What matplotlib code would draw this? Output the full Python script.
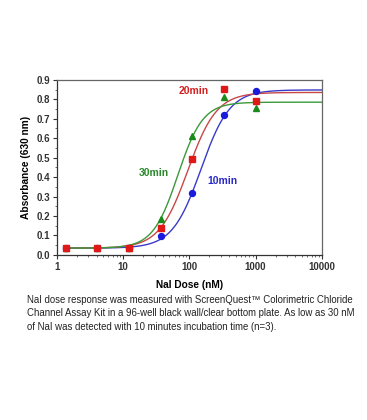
import numpy as np
import matplotlib
matplotlib.use("Agg")
import matplotlib.pyplot as plt
from matplotlib.ticker import LogLocator, MultipleLocator, NullFormatter, FixedLocator, FixedFormatter

plt.rcParams['font.family'] = ['Liberation Sans', 'DejaVu Sans']

# Data
dose = [1.37, 4.1, 12.3, 37, 111, 333, 1000]
abs_10min = [0.035, 0.035, 0.036, 0.098, 0.32, 0.72, 0.84]
abs_20min = [0.035, 0.035, 0.036, 0.137, 0.494, 0.851, 0.79]
abs_30min = [0.035, 0.035, 0.036, 0.185, 0.612, 0.811, 0.756]

# 4-parameter logistic fit parameters (bottom, top, EC50, hill)
fit_10min = (0.035, 0.848, 150.0, 2.0)
fit_20min = (0.035, 0.835, 95.0, 2.0)
fit_30min = (0.035, 0.785, 67.0, 2.3)

x_ticks = [1, 10, 100, 1000, 10000]
x_ticklabels = ['1', '10', '100', '1000', '10000']
y_ticks = [0.0, 0.1, 0.2, 0.3, 0.4, 0.5, 0.6, 0.7, 0.8, 0.9]

caption = ("NaI dose response was measured with ScreenQuest\u2122 Colorimetric Chloride\n"
           "Channel Assay Kit in a 96-well black wall/clear bottom plate. As low as 30 nM\n"
           "of NaI was detected with 10 minutes incubation time (n=3).")


def logistic(x, p):
    b, t, ec, h = p
    return b + (t - b) / (1 + (ec / x) ** h)


fig = plt.figure(figsize=(3.67, 4.2), dpi=100)
ax = fig.add_axes([0.155, 0.393, 0.722, 0.417])

xs = np.logspace(np.log10(1.37), 4, 400)
series = [
    (abs_10min, fit_10min, '#1a1adc', '#3a3ac8', 'o', 4.3),
    (abs_20min, fit_20min, '#e01818', '#c84848', 's', 3.8),
    (abs_30min, fit_30min, '#1a8a1a', '#3a9a3a', '^', 4.6),
]
for ys, fit, mc, lc, mk, ms in series:
    ax.plot(xs, logistic(xs, fit), color=lc, lw=1.0, zorder=2)
# draw markers: 10min, 30min, 20min order so red low points on top
for idx in [0, 2, 1]:
    ys, fit, mc, lc, mk, ms = series[idx]
    ax.plot(dose, ys, linestyle='none', marker=mk, color=mc, markersize=ms, zorder=3)

ax.set_xscale('log')
ax.set_xlim(1, 10000)
ax.set_ylim(0, 0.9)
ax.xaxis.set_major_locator(FixedLocator(x_ticks))
ax.xaxis.set_major_formatter(FixedFormatter(x_ticklabels))
ax.xaxis.set_minor_locator(LogLocator(base=10, subs=np.arange(2, 10)))
ax.xaxis.set_minor_formatter(NullFormatter())
ax.yaxis.set_major_locator(FixedLocator(y_ticks))
ax.set_yticklabels([f'{v:.1f}' for v in y_ticks])
ax.yaxis.set_minor_locator(MultipleLocator(0.05))

for lab in ax.get_xticklabels() + ax.get_yticklabels():
    lab.set_fontweight('bold')
    lab.set_fontsize(7)
ax.tick_params(which='major', direction='out', length=3, width=0.8, colors='#333333', pad=2)
ax.tick_params(which='minor', direction='out', length=1.5, width=0.6, colors='#555555')
for s in ax.spines.values():
    s.set_color('#666666')
    s.set_linewidth(0.9)
ax.spines['left'].set_color('#333333')
ax.spines['bottom'].set_color('#333333')

ax.set_xlabel('NaI Dose (nM)', fontsize=7.3, fontweight='bold', labelpad=6)
ax.set_ylabel('Absorbance (630 nm)', fontsize=7.3, fontweight='bold', labelpad=4)

ax.text(115, 0.84, '20min', color='#d42020', fontsize=7.5, fontweight='bold', ha='center', va='center')
ax.text(29.5, 0.42, '30min', color='#2a8a2a', fontsize=7.5, fontweight='bold', ha='center', va='center')
ax.text(316, 0.38, '10min', color='#2a2ac8', fontsize=7.5, fontweight='bold', ha='center', va='center')

fig.text(0.074, 0.298, caption, fontsize=6.95, ha='left', va='top', color='#222222', linespacing=1.45)

fig.savefig('out.png', dpi=100)
